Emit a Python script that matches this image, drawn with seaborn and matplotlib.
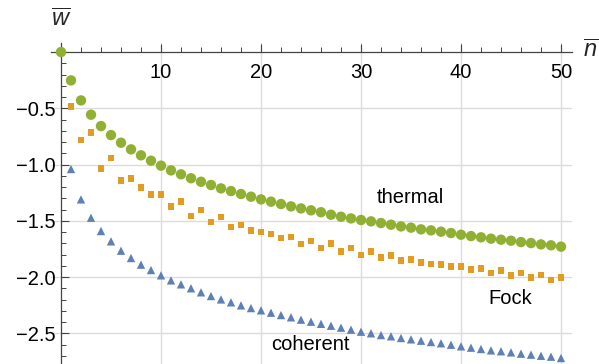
import numpy as np
import pandas as pd
import matplotlib
matplotlib.use("Agg")
import matplotlib.pyplot as plt
from matplotlib.ticker import MultipleLocator, FixedLocator
import seaborn as sns

# ---------------------------------------------------------------- data
n_thermal = list(range(0, 51))
thermal = [0.0, -0.252, -0.430, -0.557, -0.658, -0.738, -0.806, -0.865, -0.918, -0.966,
           -1.010, -1.052, -1.087, -1.122, -1.153, -1.182, -1.212, -1.236, -1.262, -1.286,
           -1.310, -1.330, -1.351, -1.372, -1.390, -1.407, -1.424, -1.446, -1.464, -1.479,
           -1.493, -1.505, -1.520, -1.535, -1.550, -1.561, -1.576, -1.585, -1.597, -1.609,
           -1.624, -1.636, -1.647, -1.659, -1.668, -1.677, -1.689, -1.698, -1.710, -1.718,
           -1.730]

n_other = list(range(1, 51))
fock = [-0.486, -0.782, -0.717, -1.037, -0.942, -1.144, -1.126, -1.206, -1.268, -1.268,
        -1.375, -1.330, -1.456, -1.404, -1.511, -1.467, -1.556, -1.538, -1.588, -1.600,
        -1.618, -1.653, -1.644, -1.707, -1.680, -1.740, -1.704, -1.775, -1.742, -1.804,
        -1.775, -1.828, -1.810, -1.852, -1.846, -1.873, -1.882, -1.890, -1.908, -1.908,
        -1.935, -1.926, -1.964, -1.944, -1.988, -1.964, -2.006, -1.982, -2.027, -2.006]
coherent = [-1.040, -1.310, -1.473, -1.591, -1.683, -1.766, -1.831, -1.890, -1.938, -1.985,
            -2.030, -2.065, -2.100, -2.136, -2.169, -2.199, -2.225, -2.252, -2.276, -2.296,
            -2.317, -2.338, -2.358, -2.379, -2.397, -2.416, -2.433, -2.450, -2.468, -2.486,
            -2.500, -2.516, -2.527, -2.542, -2.554, -2.566, -2.578, -2.589, -2.602, -2.616,
            -2.628, -2.640, -2.652, -2.660, -2.670, -2.681, -2.690, -2.700, -2.708, -2.720]

x_ticks = [10, 20, 30, 40, 50]
y_ticks = [-2.5, -2.0, -1.5, -1.0, -0.5]

# curve labels: (text, n, w)
labels = [("thermal", 34.9, -1.29), ("Fock", 44.9, -2.19), ("coherent", 24.95, -2.60)]

COLORS = {"coherent": "#5E81B5", "Fock": "#E19C24", "thermal": "#8FB032"}
MARKERS = {"coherent": "^", "Fock": "s", "thermal": "o"}
SIZES = {"coherent": 36, "Fock": 22, "thermal": 56}

# long-form table; thermal last so it sits on top
df = pd.concat([
    pd.DataFrame({"n": n_other, "w": coherent, "series": "coherent"}),
    pd.DataFrame({"n": n_other, "w": fock, "series": "Fock"}),
    pd.DataFrame({"n": n_thermal, "w": thermal, "series": "thermal"}),
], ignore_index=True)

sns.set_theme(style="white")
plt.rcParams["font.family"] = ["Liberation Sans", "DejaVu Sans"]
plt.rcParams["mathtext.fontset"] = "custom"
plt.rcParams["mathtext.it"] = "Liberation Sans:italic"
plt.rcParams["mathtext.rm"] = "Liberation Sans"

fig = plt.figure(figsize=(5.99, 3.64), dpi=100)
ax = fig.add_axes([50.7 / 599, 0.0, (571.7 - 50.7) / 599, 1 - 42.7 / 364])

sns.scatterplot(data=df, x="n", y="w", hue="series", style="series", size="series",
                palette=COLORS, markers=MARKERS, sizes=SIZES, linewidth=0,
                legend=False, ax=ax, zorder=3)

ax.set_xlim(-1.03, 51.07)
ax.set_ylim(-2.773, 0.083)

# Mathematica-style axes through the origin
for side in ["top", "right"]:
    ax.spines[side].set_visible(False)
ax.spines["bottom"].set_position(("data", 0))
ax.spines["left"].set_position(("data", 0))
for side in ["bottom", "left"]:
    ax.spines[side].set_color("#444444")
    ax.spines[side].set_linewidth(0.9)
    ax.spines[side].set_zorder(2)

ax.xaxis.set_major_locator(FixedLocator(x_ticks))
ax.xaxis.set_minor_locator(MultipleLocator(2))
ax.yaxis.set_major_locator(FixedLocator(y_ticks))
ax.yaxis.set_minor_locator(MultipleLocator(0.1))
ax.tick_params(axis="both", which="both", direction="in", color="#444444",
               labelsize=14.5, labelcolor="black", bottom=True, left=True)
ax.tick_params(axis="both", which="major", length=6, width=0.8)
ax.tick_params(axis="both", which="minor", length=3.5, width=0.7)
ax.tick_params(axis="x", which="major", pad=8)
ax.tick_params(axis="y", which="major", pad=4)
ax.set_xticklabels([str(t) for t in x_ticks])
ax.set_yticklabels([f"{t:.1f}".replace("-", "\u2212") for t in y_ticks])

ax.grid(True, which="major", color="#dcdcdc", linewidth=1.0, zorder=0)
ax.set_axisbelow(True)
ax.set_xlabel("")
ax.set_ylabel("")

for txt, xv, yv in labels:
    ax.text(xv, yv, txt, fontsize=14.5, ha="center", va="center", color="black")

fig.text(61 / 599, 1 - 20 / 364, r"$\overline{w}$", fontsize=17, ha="center", va="center")
fig.text(591 / 599, 1 - 51 / 364, r"$\overline{n}$", fontsize=17, ha="center", va="center")

fig.savefig("out.png", dpi=100)
